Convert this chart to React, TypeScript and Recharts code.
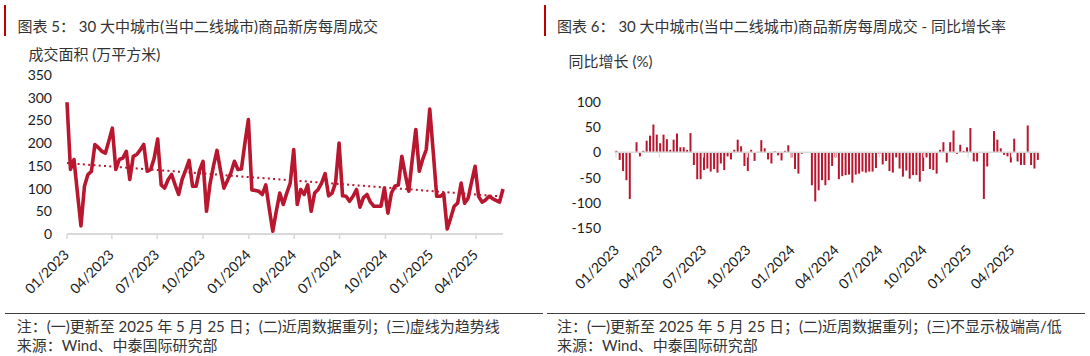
import React from 'react';
import { LineChart, Line, XAxis, YAxis, BarChart, Bar, ReferenceLine } from 'recharts';

const FONT = "Lato, 'Noto Sans CJK SC', sans-serif";
const RED = '#B8172F';

// quarter tick positions, in days since 2023-01-01
const tickDays = [0, 90, 181, 273, 365, 456, 547, 639, 731, 821];
const tickLabels = ['01/2023', '04/2023', '07/2023', '10/2023', '01/2024', '04/2024', '07/2024', '10/2024', '01/2025', '04/2025'];

// weekly transaction area (10k sqm), week 0 = 2023-01-01 ... week 125 = 2025-05-25
const volume = [
  290, 142, 164, 90, 18, 105, 131, 138, 197, 190,
  182, 178, 205, 233, 142, 164, 167, 182, 120, 171,
  175, 185, 197, 138, 142, 167, 209, 108, 101, 120,
  131, 108, 87, 120, 140, 162, 105, 105, 140, 160,
  50, 110, 150, 184, 140, 101, 118, 135, 160, 142,
  143, 200, 252, 97, 96, 94, 87, 108, 55, 6,
  50, 90, 65, 90, 112, 186, 65, 98, 87, 108,
  50, 90, 98, 112, 133, 84, 90, 113, 200, 84,
  83, 72, 83, 98, 59, 80, 87, 70, 61, 61,
  61, 101, 46, 90, 105, 108, 171, 130, 94, 165,
  230, 138, 165, 186, 275, 180, 83, 83, 89, 11,
  35, 61, 68, 112, 68, 79, 115, 149, 83, 70,
  75, 83, 78, 74, 70, 99,
];

// weekly YoY growth (%), null = extreme value not shown
const yoy: (number | null)[] = [
  3, -15, -37, -55, -92, null, 20, -8, 3, 23,
  33, 55, 35, 18, 35, 26, 5, 25, 37, 10,
  10, 5, 38, -25, -53, -53, -35, -32, -38, -33,
  -40, -22, -35, -8, -14, 5, 25, 12, -27, -37,
  5, -17, 1, 24, 8, -14, -22, 2, -6, -16,
  3, 14, -10, -33, -42, -3, null, 0, -65, -97,
  -75, -55, -65, -55, -27, -10, -53, -47, -45, -44,
  -60, -44, -42, -38, -40, -38, -38, -31, -3, -24,
  -17, -37, -40, -10, -32, -48, -36, -52, -45, -45,
  -58, -37, -10, -33, -35, -42, 5, 20, -20, 20,
  43, -3, 15, 3, 10, 48, -18, -18, 0, -92,
  -28, 0, 42, 25, 8, -5, -8, -20, 27, -18,
  -25, -25, 53, -25, -32, -15,
];

const volumeTicks = [0, 50, 100, 150, 200, 250, 300, 350];
const yoyTicks = [-150, -100, -50, 0, 50, 100];

// linear trend of the volume series (least squares)
const n = volume.length;
const mx = (n - 1) / 2;
const my = volume.reduce((a, b) => a + b, 0) / n;
let sxy = 0;
let sxx = 0;
volume.forEach((v, i) => {
  sxy += (i - mx) * (v - my);
  sxx += (i - mx) * (i - mx);
});
const slope = sxy / sxx;

const lineData = volume.map((v, i) => ({ day: i * 7, value: v, trend: my + slope * (i - mx) }));
const barData = yoy.map((v, i) => ({ day: i * 7, value: v }));

const makeTick = (dx: number, dy: number) => (props: any) => {
  const { x, y, payload } = props;
  const idx = tickDays.indexOf(payload.value);
  const label = idx >= 0 ? tickLabels[idx] : '';
  const px = x + dx;
  const py = y + dy;
  return (
    <text x={px} y={py} textAnchor="end" transform={`rotate(-45 ${px} ${py})`} fontSize={14} fill="#1a1a1a" fontFamily={FONT}>
      {label}
    </text>
  );
};

export default function App() {
  return (
    <div style={{ position: 'absolute', left: 0, top: 0, width: 1090, height: 356, background: '#fff', overflow: 'hidden' }}>
      <div style={{ position: 'absolute', left: 0, top: 0 }}>
        <LineChart width={545} height={300} data={lineData} margin={{ top: 75, right: 42, bottom: 6, left: 0 }}>
          <XAxis
            type="number"
            dataKey="day"
            domain={[0, 875]}
            ticks={tickDays}
            interval={0}
            height={60}
            tickSize={5}
            tickMargin={2}
            axisLine={{ stroke: '#d9d9d9', strokeWidth: 2 }}
            tickLine={{ stroke: '#d9d9d9', strokeWidth: 1.5 }}
            tick={makeTick(3, 14.7)}
          />
          <YAxis
            type="number"
            domain={[0, 350]}
            ticks={volumeTicks}
            interval={0}
            width={67}
            axisLine={false}
            tickLine={false}
            tickSize={0}
            tickMargin={15}
            tick={{ fontSize: 14, fill: '#1a1a1a', fontFamily: FONT }}
          />
          <Line
            type="linear"
            dataKey="trend"
            stroke={RED}
            strokeWidth={2}
            strokeDasharray="2 3.3"
            dot={false}
            activeDot={false}
            isAnimationActive={false}
          />
          <Line
            type="linear"
            dataKey="value"
            stroke={RED}
            strokeWidth={3.6}
            strokeLinejoin="round"
            dot={false}
            activeDot={false}
            isAnimationActive={false}
          />
        </LineChart>
      </div>
      <div style={{ position: 'absolute', left: 545, top: 0 }}>
        <BarChart width={545} height={300} data={barData} margin={{ top: 101.7, right: 50.8, bottom: 11.7, left: 0 }}>
          <XAxis
            type="number"
            dataKey="day"
            domain={[-3.5, 878.5]}
            ticks={tickDays}
            interval={0}
            height={60}
            tickSize={0}
            tickMargin={0}
            axisLine={false}
            tickLine={false}
            tick={makeTick(4, 22.7)}
          />
          <YAxis
            type="number"
            domain={[-150, 100]}
            ticks={yoyTicks}
            interval={0}
            width={69.3}
            axisLine={false}
            tickLine={false}
            tickSize={0}
            tickMargin={13.3}
            tick={{ fontSize: 14, fill: '#1a1a1a', fontFamily: FONT }}
          />
          <ReferenceLine y={0} stroke="#d9d9d9" strokeWidth={1.5} />
          {tickDays.map((d) => (
            <ReferenceLine
              key={d}
              segment={[{ x: d, y: 0 }, { x: d, y: -10 }]}
              stroke="#d9d9d9"
              strokeWidth={1.2}
            />
          ))}
          <Bar dataKey="value" fill={RED} barSize={2} isAnimationActive={false} />
        </BarChart>
      </div>
      <svg width={1090} height={356} style={{ position: 'absolute', left: 0, top: 0, pointerEvents: 'none' }}>
        <rect x={4} y={5} width={2} height={31} fill="#C00000" />
        <rect x={544} y={5} width={2} height={31} fill="#C00000" />
        <g fontFamily={FONT} fill="#333" fontSize={15} style={{ whiteSpace: 'pre' }}>
          <text x={17.4} y={26} dominantBaseline="central">图表 5： 30 大中城市(当中二线城市)商品新房每周成交</text>
          <text x={557} y={26} dominantBaseline="central">图表 6： 30 大中城市(当中二线城市)商品新房每周成交 - 同比增长率</text>
          <text x={28.5} y={54} dominantBaseline="central">成交面积 (万平方米)</text>
          <text x={568.6} y={61} dominantBaseline="central">同比增长 (%)</text>
          <text x={16.7} y={326} dominantBaseline="central">注：(一)更新至 2025 年 5 月 25 日；(二)近周数据重列；(三)虚线为趋势线</text>
          <text x={16.7} y={345} dominantBaseline="central">来源：Wind、中泰国际研究部</text>
          <text x={557} y={326} dominantBaseline="central">注：(一)更新至 2025 年 5 月 25 日；(二)近周数据重列；(三)不显示极端高/低</text>
          <text x={557} y={345} dominantBaseline="central">来源：Wind、中泰国际研究部</text>
        </g>
        <line x1={5} x2={543} y1={313.5} y2={313.5} stroke="#404040" strokeWidth={1.2} />
        <line x1={547} x2={1085} y1={313.5} y2={313.5} stroke="#404040" strokeWidth={1.2} />
      </svg>
    </div>
  );
}
